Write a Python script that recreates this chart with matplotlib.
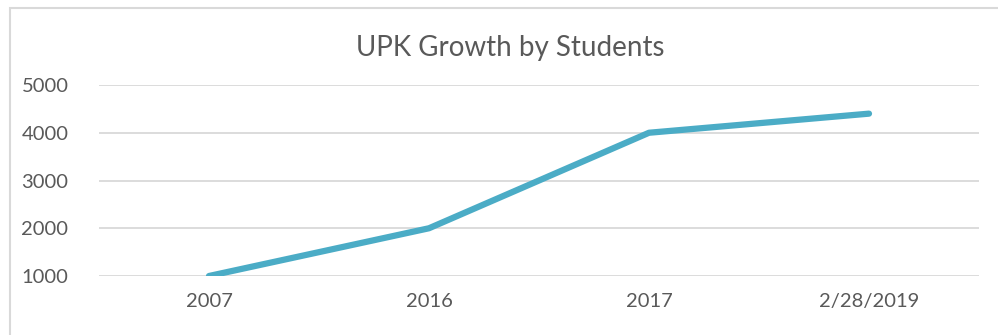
import matplotlib
matplotlib.use("Agg")
import matplotlib.pyplot as plt
from matplotlib.patches import Rectangle

categories = ["2007", "2016", "2017", "2/28/2019"]
students = [1000, 2000, 4000, 4400]
y_ticks = [1000, 2000, 3000, 4000, 5000]

W, H = 998, 335
fig = plt.figure(figsize=(W / 100, H / 100), dpi=100)
plt.rcParams['font.family'] = ['Lato', 'DejaVu Sans']

# chart border
fig.patches.append(Rectangle((10 / W, -0.1), 1.2, (H - 8) / H + 0.1, transform=fig.transFigure,
                             fill=False, edgecolor="#d9d9d9", linewidth=1.5, figure=fig))

x0, x1 = 99, 979
ytop, ybot = 85, 276
ax = fig.add_axes([x0 / W, (H - ybot) / H, (x1 - x0) / W, (ybot - ytop) / H])
ax.set_facecolor("none")

xs = list(range(len(categories)))
ax.plot(xs, students, color="#4bacc6", linewidth=4.5, solid_capstyle="round", zorder=3)

ax.set_xlim(-0.5, len(categories) - 0.5)
ax.set_ylim(min(y_ticks), max(y_ticks))
ax.set_yticks(y_ticks)
ax.set_xticks(xs)
ax.set_xticklabels(categories)
ax.grid(axis="y", color="#d9d9d9", linewidth=1.3)
ax.set_axisbelow(True)
for s in ax.spines.values():
    s.set_visible(False)
ax.tick_params(axis="both", length=0, labelsize=14.5, colors="#595959")
ax.tick_params(axis="y", pad=22)
ax.tick_params(axis="x", pad=12)
for lab in ax.get_yticklabels() + ax.get_xticklabels():
    lab.set_color("#595959")

fig.text(510 / W, (H - 48) / H, "UPK Growth by Students", ha="center", va="center",
         fontsize=20, color="#595959")

fig.savefig("out.png", dpi=100)
